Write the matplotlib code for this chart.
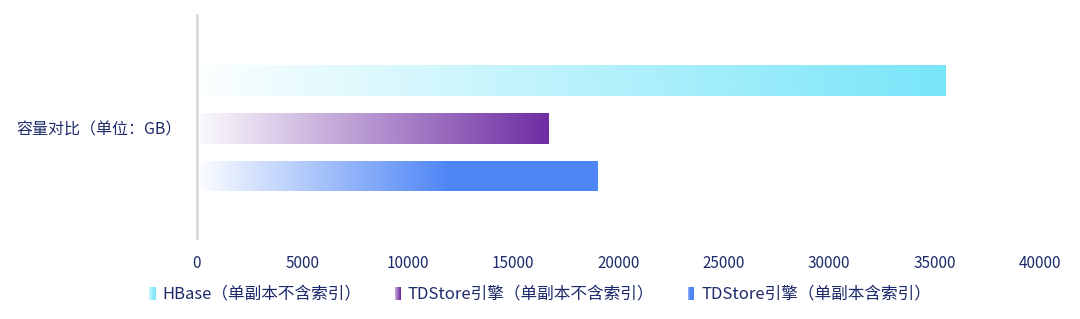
import numpy as np
import matplotlib.pyplot as plt
from matplotlib.colors import LinearSegmentedColormap, to_rgb
from matplotlib.legend_handler import HandlerBase
from matplotlib.patches import Rectangle

plt.rcParams['font.family'] = ['Noto Sans CJK SC', 'DejaVu Sans']

category = '容量对比（单位：GB）'
series = ['HBase（单副本不含索引）', 'TDStore引擎（单副本不含索引）', 'TDStore引擎（单副本含索引）']
values = [35500, 16700, 19000]
colors = ['#78e6f9', '#6e2ca2', '#4f86f7']
# fraction of the bar at which the gradient reaches full colour
solid_at = [1.0, 1.0, 0.62]
xticks = [0, 5000, 10000, 15000, 20000, 25000, 30000, 35000, 40000]

text_color = '#1e2b6b'


def grad_cmap(color, solid):
    r, g, b = to_rgb(color)
    return LinearSegmentedColormap.from_list(
        'g', [(0.0, (r, g, b, 0.03)), (solid, (r, g, b, 1.0)), (1.0, (r, g, b, 1.0))])


class GradientHandler(HandlerBase):
    def __init__(self, color, solid):
        super().__init__()
        self.cmap = grad_cmap(color, min(solid, 1.0))

    def create_artists(self, legend, orig_handle, xdescent, ydescent,
                       width, height, fontsize, trans):
        n = 6
        arts = []
        for i in range(n):
            r = Rectangle((-xdescent + i * width / n, -ydescent), width / n, height,
                          facecolor=self.cmap(0.3 + 0.7 * (i + 1) / n), edgecolor='none',
                          transform=trans)
            arts.append(r)
        return arts


fig = plt.figure(figsize=(10.8, 3.19), dpi=100)
ax = fig.add_axes([0.1824, 0.254, 0.7806, 0.699])

pos = np.array([-1, 0, 1])
bars = ax.barh(pos, values, height=0.64, facecolor='none', edgecolor='none')
grad = np.linspace(0, 1, 256).reshape(1, -1)
for bar, c, s in zip(bars, colors, solid_at):
    x0, y0 = bar.get_x(), bar.get_y()
    w, h = bar.get_width(), bar.get_height()
    im = ax.imshow(grad, cmap=grad_cmap(c, s), extent=[x0 + 150, x0 + w, y0, y0 + h],
                   aspect='auto', interpolation='bicubic', zorder=2)
    im.set_clip_path(bar)

ax.set_xlim(0, 40000)
ax.set_ylim(2.29, -2.36)
ax.set_xticks(xticks)
ax.set_xticklabels([str(t) for t in xticks])
ax.set_yticks([0])
ax.set_yticklabels([category])

for sp in ['top', 'right', 'bottom']:
    ax.spines[sp].set_visible(False)
ax.spines['left'].set_color('#d9d9d9')
ax.spines['left'].set_linewidth(2)
ax.tick_params(axis='both', length=0, colors=text_color)
ax.tick_params(axis='x', pad=12, labelsize=11)
ax.tick_params(axis='y', pad=11, labelsize=11.5)

handles = [Rectangle((0, 0), 1, 1) for _ in series]
hmap = {h: GradientHandler(c, s) for h, c, s in zip(handles, colors, solid_at)}
leg = fig.legend(handles, series, handler_map=hmap, loc='center', bbox_to_anchor=(0.5, 0.075),
                 ncol=3, frameon=False, fontsize=12, handlelength=0.4, handleheight=0.8,
                 handletextpad=0.4, columnspacing=2.0)
for t in leg.get_texts():
    t.set_color(text_color)

fig.savefig('out.png', dpi=100)
